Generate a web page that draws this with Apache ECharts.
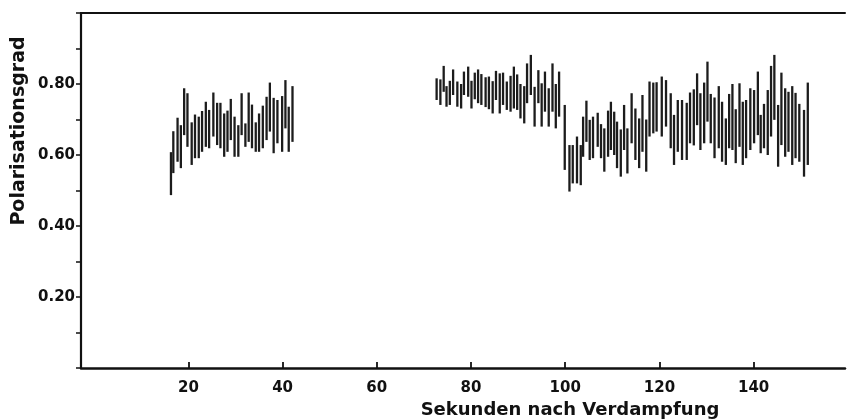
<!DOCTYPE html>
<html><head><meta charset="utf-8">
<script src="https://cdn.jsdelivr.net/npm/echarts@6/dist/echarts.min.js"></script>
<style>html,body{margin:0;padding:0;background:#fff}#c{width:847px;height:419px}</style>
</head><body><div id="c"></div>
<script>
// Segment 1 (before the gap)
const seconds1 = [16.3,16.8,17.7,18.4,19.1,19.8,20.7,21.4,22.2,22.9,23.7,24.4,25.3,26.1,26.8,27.6,28.3,29.0,29.8,30.6,31.3,32.1,32.8,33.5,34.3,35.0,35.8,36.6,37.3,38.1,38.9,39.9,40.6,41.3,42.1];
const upper1 = [.608,.667,.705,.684,.788,.774,.692,.714,.708,.724,.750,.727,.776,.747,.747,.717,.725,.758,.708,.684,.774,.689,.776,.742,.692,.717,.739,.764,.804,.761,.755,.766,.811,.736,.794];
const lower1 = [.487,.549,.581,.563,.656,.623,.572,.591,.591,.609,.623,.619,.652,.628,.619,.595,.609,.642,.595,.595,.656,.623,.637,.619,.609,.609,.619,.642,.666,.605,.633,.609,.675,.609,.637];
// Segment 2
const seconds2 = [72.7,73.5,74.2,74.8,75.5,76.2,77.1,77.9,78.5,79.4,80.1,80.8,81.5,82.2,83.1,83.8,84.6,85.3,86.1,86.8,87.6,88.4,89.1,89.8,90.5,91.3,91.9,92.7,93.5,94.3,95.0,95.7,96.5,97.3,98.0,98.7,99.9,100.9,101.6,102.5];
const upper2 = [.816,.813,.851,.794,.809,.841,.807,.800,.835,.849,.809,.832,.841,.828,.819,.821,.808,.837,.830,.832,.807,.823,.849,.827,.800,.794,.858,.882,.792,.839,.802,.835,.788,.858,.800,.835,.741,.628,.628,.652];
const lower2 = [.755,.741,.778,.736,.741,.769,.736,.731,.769,.764,.731,.757,.746,.741,.735,.729,.717,.755,.717,.741,.727,.722,.731,.727,.703,.689,.746,.769,.680,.746,.680,.722,.680,.722,.675,.708,.558,.497,.520,.520];
// Segment 3
const seconds3 = [103.3,103.8,104.5,105.2,105.9,106.9,107.6,108.3,109.1,109.7,110.4,111.0,111.8,112.5,113.2,114.1,114.9,115.7,116.4,117.2,117.9,118.7,119.4,120.5,121.4,122.4,123.1,123.9,124.8,125.8,126.5,127.3,128.0,128.7,129.5,130.2,130.9,131.7,132.6,133.3,134.1,134.8,135.5,136.2,137.0,137.7,138.4,139.3,140.1,140.9,141.5,142.2,143.0,143.7,144.4,145.2,145.9,146.7,147.4,148.2,148.9,149.7,150.7,151.5];
const upper3 = [.628,.708,.753,.699,.708,.719,.687,.675,.725,.750,.722,.694,.672,.741,.675,.774,.731,.703,.769,.700,.807,.804,.805,.821,.811,.774,.713,.755,.755,.747,.776,.785,.830,.774,.804,.863,.772,.762,.794,.750,.703,.772,.800,.729,.802,.750,.755,.788,.783,.835,.713,.744,.783,.851,.882,.741,.832,.788,.778,.794,.775,.744,.727,.804];
const lower3 = [.515,.595,.637,.586,.591,.623,.591,.553,.595,.614,.600,.563,.539,.614,.548,.633,.586,.563,.609,.553,.652,.661,.666,.652,.680,.619,.572,.609,.586,.586,.633,.627,.684,.614,.633,.694,.633,.591,.619,.581,.572,.619,.614,.577,.623,.572,.591,.614,.633,.656,.605,.619,.600,.652,.699,.567,.628,.595,.609,.572,.591,.581,.539,.572];

const xTicks = [20,40,60,80,100,120,140];
const yTickLabels = ['0.20','0.40','0.60','0.80'];
const xTitle = 'Sekunden nach Verdampfung';
const yTitle = 'Polarisationsgrad';

const seconds = seconds1.concat(seconds2, seconds3);
const lower = lower1.concat(lower2, lower3);
const upper = upper1.concat(upper2, upper3);
const data = seconds.map((s, i) => [s, lower[i], upper[i]]);

const FONT = '"DejaVu Sans", sans-serif';
const chart = echarts.init(document.getElementById('c'), null, {renderer: 'canvas'});
chart.setOption({
  animation: false,
  backgroundColor: '#fff',
  grid: {left: 81, right: 2, top: 13, bottom: 51},
  xAxis: [{
    type: 'value', min: -2.8, max: 159.4,
    axisLine: {show: true, onZero: false, lineStyle: {color: '#111', width: 2.5}},
    axisTick: {show: true, inside: true, length: 6, customValues: xTicks, lineStyle: {color: '#111', width: 1.8}},
    axisLabel: {show: true, customValues: xTicks, margin: 13, color: '#111', fontFamily: FONT, fontWeight: 'bold', fontSize: 15},
    splitLine: {show: false}
  }, {
    type: 'value', position: 'top', min: -2.8, max: 159.4,
    axisLine: {show: true, onZero: false, lineStyle: {color: '#111', width: 2}},
    axisTick: {show: false}, axisLabel: {show: false}, splitLine: {show: false}
  }],
  yAxis: {
    type: 'value', min: 0, max: 1, interval: 0.1,
    axisLine: {show: true, onZero: false, lineStyle: {color: '#111', width: 2.2}},
    axisTick: {show: true, inside: false, length: 5, lineStyle: {color: '#111', width: 1.5}},
    axisLabel: {
      margin: 6, color: '#111', fontFamily: FONT, fontWeight: 'bold', fontSize: 15,
      formatter: v => { const s = v.toFixed(2); return yTickLabels.indexOf(s) >= 0 ? s : ''; }
    },
    splitLine: {show: false}
  },
  graphic: [
    {type: 'text', x: 570, y: 410, style: {text: xTitle, fontSize: 18, fontFamily: FONT, fontWeight: 'bold', fill: '#111', align: 'center', verticalAlign: 'middle'}},
    {type: 'text', x: 19, y: 131, rotation: Math.PI / 2, style: {text: yTitle, fontSize: 19, fontFamily: FONT, fontWeight: 'bold', fill: '#111', align: 'center', verticalAlign: 'middle'}}
  ],
  series: [{
    type: 'custom',
    xAxisIndex: 0,
    data: data,
    encode: {x: 0, y: [1, 2]},
    renderItem: function (params, api) {
      const p1 = api.coord([api.value(0), api.value(1)]);
      const p2 = api.coord([api.value(0), api.value(2)]);
      return {type: 'line', shape: {x1: p1[0], y1: p1[1], x2: p2[0], y2: p2[1]},
        style: {stroke: '#1c1c1c', lineWidth: 2.3}};
    }
  }]
});
</script></body></html>
